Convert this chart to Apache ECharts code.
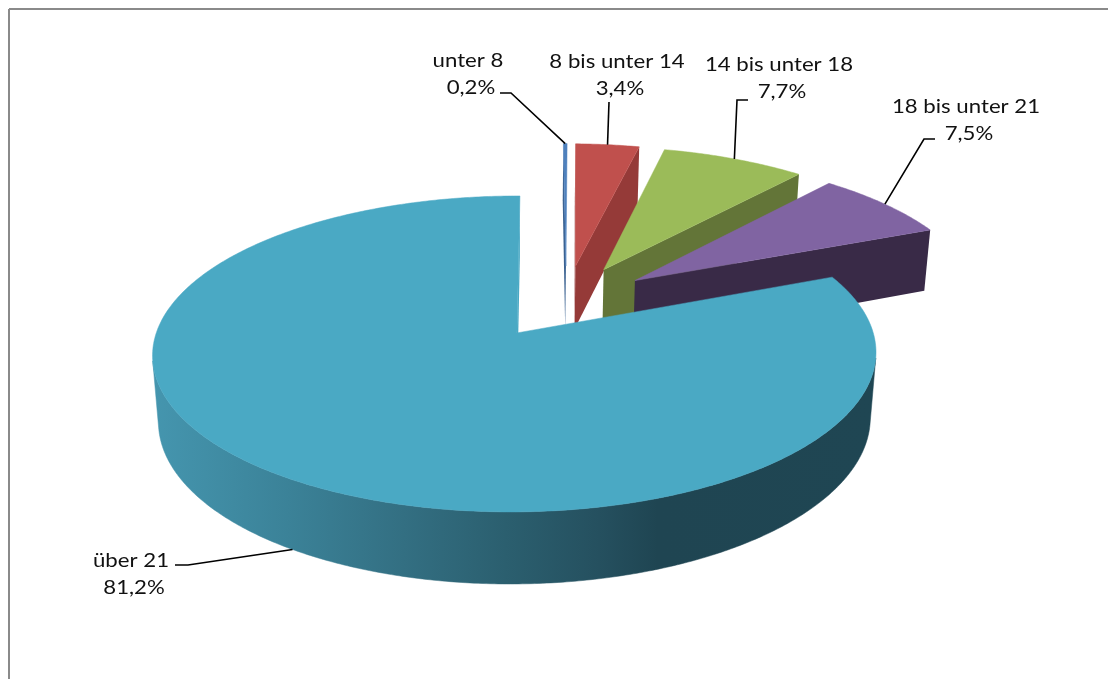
<!DOCTYPE html>
<html>
<head>
<meta charset="utf-8">
<style>html,body{margin:0;padding:0;background:#fff}#chart{width:1108px;height:679px}</style>
<script src="https://cdn.jsdelivr.net/npm/echarts@6/dist/echarts.min.js"></script>
</head>
<body>
<div id="chart"></div>
<script>
// Altersgruppen und ihre Anteile in Prozent, im Uhrzeigersinn ab 12 Uhr
var categories = ['unter 8', '8 bis unter 14', '14 bis unter 18', '18 bis unter 21', 'über 21'];
var shares = [0.2, 3.4, 7.7, 7.5, 81.2];
var shareLabels = ['0,2%', '3,4%', '7,7%', '7,5%', '81,2%'];

var topColors = ['#4f81bd', '#c0504d', '#9bbb59', '#8064a2', '#4aa9c4'];
var wallColors = ['#3b6291', '#953a38', '#637538', '#392a47', '#1f4755'];

// Perspektive der Tortenscheibe: Einheitskreis auf Bildschirmkoordinaten
var view = { cx: 517, cy: 333, rx: 358.5, ry: 155.2, depthK: 0.1329, sideK: 0.006, shear: 3.4,
             wallH: 66.5, wallW: 0.016, pieU: 0.139, pieV: -0.208 };
var explode = 0.25;

function project(u, v, lower) {
  var w = 1 - view.depthK * v + view.sideK * u + (lower ? view.wallW : 0);
  return [view.cx + (view.rx * u - view.shear * v) / w,
          view.cy + (view.ry * v + (lower ? view.wallH : 0)) / w];
}

var total = shares.reduce(function (a, b) { return a + b; }, 0);
var slices = [];
(function () {
  var acc = 0;
  shares.forEach(function (s) {
    var a0 = acc / total * Math.PI * 2;
    acc += s;
    var a1 = acc / total * Math.PI * 2;
    var mid = (a0 + a1) / 2;
    slices.push({ a0: a0, a1: a1, mid: mid,
      ou: view.pieU + explode * Math.sin(mid), ov: view.pieV - explode * Math.cos(mid) });
  });
})();

function rim(sl, ang, lower) {
  return project(sl.ou + Math.sin(ang), sl.ov - Math.cos(ang), lower);
}
function area(p) {
  var s = 0;
  for (var i = 0; i < p.length; i++) {
    var q = p[(i + 1) % p.length];
    s += p[i][0] * q[1] - q[0] * p[i][1];
  }
  return s / 2;
}

// Seitenwand der großen Scheibe: Helligkeit ändert sich mit x
var bigWallFill = new echarts.graphic.LinearGradient(150, 0, 875, 0, [
  { offset: 0, color: '#4596af' },
  { offset: 0.19, color: '#3b8298' },
  { offset: 0.35, color: '#336f82' },
  { offset: 0.49, color: '#2b5f6f' },
  { offset: 0.62, color: '#25505f' },
  { offset: 0.7, color: '#1f4552' },
  { offset: 1, color: '#1f4653' }
], true);

function renderSlice(params, api) {
  var i = params.dataIndex;
  var sl = slices[i];
  var kids = [];
  var steps = Math.max(3, Math.ceil((sl.a1 - sl.a0) / 0.01));
  var apexTop = project(sl.ou, sl.ov, false);
  var apexLow = project(sl.ou, sl.ov, true);
  var wallFill = i === 4 ? bigWallFill : wallColors[i];

  // Gerade Schnittkanten, nur wenn sie zum Betrachter zeigen
  [[sl.a0, -1], [sl.a1, 1]].forEach(function (edge) {
    var quad = [apexTop, rim(sl, edge[0], false), rim(sl, edge[0], true), apexLow];
    if (area(quad) * edge[1] > 0) {
      kids.push({ type: 'polygon', shape: { points: quad },
        style: { fill: i === 4 ? topColors[4] : wallColors[i] } });
    }
  });

  // Außenwand: zusammenhängende sichtbare Abschnitte des Bogens
  var run = [];
  function flush() {
    if (run.length > 1) {
      var top = run.map(function (a) { return rim(sl, a, false); });
      var low = run.map(function (a) { return rim(sl, a, true); }).reverse();
      kids.push({ type: 'polygon', shape: { points: top.concat(low) },
        style: { fill: wallFill, stroke: wallFill, lineWidth: 0.5 } });
    }
    run = [];
  }
  for (var s = 0; s < steps; s++) {
    var a = sl.a0 + (sl.a1 - sl.a0) * s / steps;
    var b = sl.a0 + (sl.a1 - sl.a0) * (s + 1) / steps;
    var seg = [rim(sl, a, false), rim(sl, b, false), rim(sl, b, true), rim(sl, a, true)];
    if (area(seg) < 0) {
      if (!run.length) run.push(a);
      run.push(b);
    } else {
      flush();
    }
  }
  flush();

  // Deckfläche
  var face = [apexTop];
  for (var t = 0; t <= steps; t++) {
    face.push(rim(sl, sl.a0 + (sl.a1 - sl.a0) * t / steps, false));
  }
  kids.push({ type: 'polygon', shape: { points: face },
    style: { fill: topColors[i], stroke: topColors[i], lineWidth: 0.5 } });

  return { type: 'group', children: kids };
}

// Beschriftungen: Textmitte, Knick der Führungslinie und Anfang an der Beschriftung
var labelBoxes = [
  { x: 468, y: 61, from: [500, 93], knee: [511, 93], lower: false },
  { x: 617, y: 62, from: [609, 102], knee: null, lower: false },
  { x: 779, y: 65, from: [748, 100], knee: [737, 100], lower: false },
  { x: 966, y: 107, from: [935, 139], knee: [924, 139], lower: false },
  { x: 131, y: 561, from: [175, 565], knee: [188, 565], lower: true }
];

function labelText(x, y, text) {
  return { type: 'text', x: x, y: y, scaleX: 1.2,
    style: { x: 0, y: 0, text: text, font: '18.5px Lato, "Open Sans", sans-serif', fill: '#111',
      align: 'center', verticalAlign: 'middle' } };
}

function renderLabel(params, api) {
  var i = params.dataIndex;
  var box = labelBoxes[i];
  var sl = slices[i];
  var end = rim(sl, sl.mid, box.lower);
  var pts = [box.from];
  if (box.knee) pts.push(box.knee);
  pts.push(end);
  return { type: 'group', children: [
    { type: 'polyline', shape: { points: pts }, style: { fill: 'none', stroke: '#000', lineWidth: 1.6 } },
    labelText(box.x, box.y, categories[i]),
    labelText(box.x + 3, box.y + 27, shareLabels[i])
  ] };
}

var chart = echarts.init(document.getElementById('chart'), null, { renderer: 'canvas' });
chart.setOption({
  animation: false,
  backgroundColor: '#fff',
  graphic: [
    { type: 'line', shape: { x1: 9, y1: 9, x2: 1108, y2: 9 }, style: { stroke: '#8a8a8a', lineWidth: 2 } },
    { type: 'line', shape: { x1: 9, y1: 9, x2: 9, y2: 679 }, style: { stroke: '#8a8a8a', lineWidth: 2 } }
  ],
  series: [
    { type: 'custom', coordinateSystem: 'none', renderItem: renderSlice, data: shares, silent: true },
    { type: 'custom', coordinateSystem: 'none', renderItem: renderLabel, data: shares, silent: true, z: 3 }
  ]
});
</script>
</body>
</html>
